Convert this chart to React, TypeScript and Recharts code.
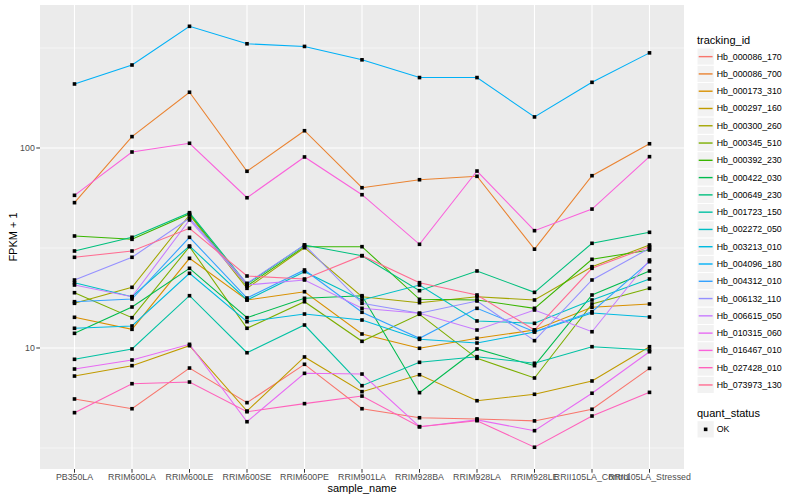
import React from 'react';
import { ComposedChart, Line, XAxis, YAxis, CartesianGrid } from 'recharts';

const categories = ['PB350LA', 'RRIM600LA', 'RRIM600LE', 'RRIM600SE', 'RRIM600PE', 'RRIM901LA', 'RRIM928BA', 'RRIM928LA', 'RRIM928LE', 'RRII105LA_Control', 'RRII105LA_Stressed'];

const hb000086_170 = [5.56, 4.97, 7.94, 5.33, 8.29, 4.97, 4.48, 4.42, 4.32, 4.94, 7.91];
const hb000086_700 = [53.3, 114, 190, 76.5, 122, 63.3, 69.4, 72.2, 31.2, 72.7, 105];
const hb000173_310 = [14.24, 12.4, 28.08, 17.38, 19.12, 11.75, 9.97, 11.18, 12.3, 15.98, 16.6];
const hb000297_160 = [7.24, 8.16, 10.27, 4.84, 9.02, 6.05, 7.35, 5.45, 5.87, 6.84, 10.15];
const hb000300_260 = [16.73, 20.11, 46.24, 19.88, 31.73, 18.05, 16.85, 18.05, 17.38, 25.5, 32.73];
const hb000345_510 = [18.9, 14.18, 32.11, 12.55, 17.04, 10.8, 14.74, 8.88, 7.08, 16.6, 19.88];
const hb000392_230 = [36.31, 34.95, 46.77, 20.42, 32.11, 32.11, 17.52, 17.38, 15.79, 27.76, 30.9];
const hb000422_030 = [11.84, 16.03, 25.03, 14.18, 17.72, 18.26, 5.98, 9.89, 8.16, 18.41, 24.27];
const hb000649_230 = [30.55, 35.77, 47.48, 20.89, 32.73, 28.94, 19.34, 24.27, 18.98, 33.38, 37.88];
const hb001723_150 = [8.78, 9.89, 18.26, 9.47, 13.03, 6.48, 8.48, 9.05, 8.39, 10.15, 9.77];
const hb002272_050 = [21.21, 18.05, 32.36, 17.38, 24.07, 17.38, 20.65, 13.65, 13.29, 17.38, 22.13];
const hb003213_010 = [12.55, 12.88, 23.63, 13.54, 14.79, 13.8, 11.05, 10.59, 12.02, 14.96, 14.29];
const hb004096_180 = [209, 260, 406, 332, 322, 276, 225, 225, 143, 213, 299];
const hb004312_010 = [17.04, 17.58, 35.77, 17.78, 24.55, 15.09, 11.18, 15.79, 12.06, 15.19, 27.01];
const hb006132_110 = [21.88, 28.41, 44.52, 21.06, 32.73, 16.73, 14.91, 17.18, 10.88, 21.88, 31.51];
const hb006615_050 = [20.65, 18.05, 43.65, 20.65, 21.88, 15.79, 14.91, 12.3, 15.49, 12.06, 27.54];
const hb010315_060 = [7.85, 8.71, 10.43, 4.28, 7.47, 7.41, 4.04, 4.37, 3.86, 5.94, 9.58];
const hb016467_010 = [58.0, 95.5, 105.6, 56.4, 90.2, 58.4, 33.0, 76.7, 38.6, 49.5, 90.5];
const hb027428_010 = [4.75, 6.63, 6.76, 4.8, 5.27, 5.75, 4.04, 4.33, 3.19, 4.57, 6.0];
const hb073973_130 = [28.41, 30.55, 39.67, 22.91, 22.13, 28.94, 21.21, 18.41, 12.3, 25.03, 32.11];

const seriesNames = ['Hb_000086_170', 'Hb_000086_700', 'Hb_000173_310', 'Hb_000297_160', 'Hb_000300_260', 'Hb_000345_510', 'Hb_000392_230', 'Hb_000422_030', 'Hb_000649_230', 'Hb_001723_150', 'Hb_002272_050', 'Hb_003213_010', 'Hb_004096_180', 'Hb_004312_010', 'Hb_006132_110', 'Hb_006615_050', 'Hb_010315_060', 'Hb_016467_010', 'Hb_027428_010', 'Hb_073973_130'];
const seriesValues = [hb000086_170, hb000086_700, hb000173_310, hb000297_160, hb000300_260, hb000345_510, hb000392_230, hb000422_030, hb000649_230, hb001723_150, hb002272_050, hb003213_010, hb004096_180, hb004312_010, hb006132_110, hb006615_050, hb010315_060, hb016467_010, hb027428_010, hb073973_130];
const seriesColors = ['#F8766D', '#EA8331', '#D89000', '#C09B00', '#A3A500', '#7CAE00', '#39B600', '#00BB4E', '#00BF7D', '#00C1A3', '#00BFC4', '#00BAE0', '#00B0F6', '#35A2FF', '#9590FF', '#C77CFF', '#E76BF3', '#FA62DB', '#FF62BC', '#FF6C91'];

const yTicks = [10, 100];
const yMinor = [3.1623, 31.623, 316.23];
const xTicks = categories.map((_, i) => i);

const rows = categories.map((name, i) => {
  const r: any = { x: i, name };
  seriesValues.forEach((vals, k) => { r['s' + k] = vals[i]; });
  return r;
});

const FONT = '"Liberation Sans", Arial, Helvetica, sans-serif';

const renderDot = (p: any) => {
  if (p.cx == null || p.cy == null) return <g key={`d-${p.dataKey}-${p.index}`} />;
  return <rect key={`d-${p.dataKey}-${p.index}`} x={p.cx - 1.8} y={p.cy - 1.8} width={3.6} height={3.6} fill="#000" />;
};

const XTitle = (props: any) => {
  const vb = props.viewBox || { x: 40, y: 469, width: 644, height: 31 };
  const cx = vb.x + vb.width / 2;
  return <text x={cx} y={vb.y + 22.5} textAnchor="middle" fontSize={11} fill="#000" fontFamily={FONT}>sample_name</text>;
};

const YTitle = (props: any) => {
  const vb = props.viewBox || { x: 0, y: 5, width: 40, height: 464 };
  const cx = vb.x + 13;
  const cy = vb.y + vb.height / 2;
  return <text x={cx} y={cy} transform={`rotate(-90 ${cx} ${cy})`} textAnchor="middle" dominantBaseline="central" fontSize={11} fill="#000" fontFamily={FONT}>FPKM + 1</text>;
};

const LegendBox = () => {
  const step = 17.28;
  const top0 = 48;
  return (
    <svg width={110} height={500} style={{ position: 'absolute', left: 690, top: 0 }} fontFamily={FONT}>
      <text x={7} y={44} fontSize={11} fill="#000">tracking_id</text>
      {seriesNames.map((n, k) => {
        const y = top0 + k * step;
        return (
          <g key={'lg' + k}>
            <rect x={7} y={y} width={step} height={step} fill="#F2F2F2" stroke="#fff" strokeWidth={1} />
            <line x1={8.7} x2={7 + step - 1.7} y1={y + step / 2} y2={y + step / 2} stroke={seriesColors[k]} strokeWidth={1.4} />
            <text x={26.7} y={y + step / 2} dominantBaseline="central" fontSize={8.8} fill="#000">{n}</text>
          </g>
        );
      })}
      <text x={7} y={416.5} fontSize={11} fill="#000">quant_status</text>
      <rect x={7} y={420.7} width={step} height={step} fill="#F2F2F2" stroke="#fff" strokeWidth={1} />
      <rect x={7 + step / 2 - 1.8} y={420.7 + step / 2 - 1.8} width={3.6} height={3.6} fill="#000" />
      <text x={26.7} y={420.7 + step / 2} dominantBaseline="central" fontSize={8.8} fill="#000">OK</text>
    </svg>
  );
};

export default function App() {
  return (
    <div style={{ position: 'absolute', left: 0, top: 0, width: 800, height: 500, background: '#fff', fontFamily: FONT }}>
      <ComposedChart width={800} height={500} data={rows} margin={{ top: 5, right: 116, bottom: 0, left: 0 }}>
        <CartesianGrid fill="#EBEBEB" stroke="#fff" strokeWidth={0.55} vertical={false} horizontalValues={yMinor} />
        <CartesianGrid fill="none" stroke="#fff" strokeWidth={1.1} horizontalValues={yTicks} verticalValues={xTicks} />
        <XAxis
          type="number"
          dataKey="x"
          domain={[-0.6, 10.6]}
          ticks={xTicks}
          interval={0}
          allowDataOverflow
          tickFormatter={(v: number) => categories[v] ?? ''}
          height={31}
          tickSize={3.7}
          tickMargin={1.5}
          axisLine={false}
          tickLine={{ stroke: '#333333', strokeWidth: 1 }}
          tick={{ fontSize: 8.8, fill: '#4D4D4D', fontFamily: FONT }}
          label={(p: any) => <XTitle {...p} />}
        />
        <YAxis
          type="number"
          scale="log"
          domain={[2.4831, 518.8]}
          allowDataOverflow
          ticks={yTicks}
          interval={0}
          width={40}
          tickSize={3.7}
          tickMargin={1.5}
          axisLine={false}
          tickLine={{ stroke: '#333333', strokeWidth: 1 }}
          tick={{ fontSize: 8.8, fill: '#4D4D4D', fontFamily: FONT }}
          label={(p: any) => <YTitle {...p} />}
        />
        {seriesNames.map((n, k) => (
          <Line key={'l' + k} type="linear" dataKey={'s' + k} name={n} stroke={seriesColors[k]} strokeWidth={1.07} dot={false} activeDot={false} isAnimationActive={false} />
        ))}
        {seriesNames.map((n, k) => (
          <Line key={'p' + k} type="linear" dataKey={'s' + k} name={n + ' points'} stroke="none" strokeOpacity={0} dot={renderDot} activeDot={false} legendType="none" isAnimationActive={false} />
        ))}
      </ComposedChart>
      <LegendBox />
    </div>
  );
}
